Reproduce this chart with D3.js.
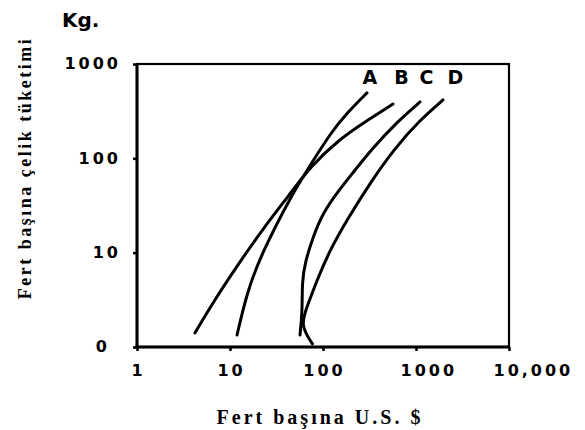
<!DOCTYPE html>
<html>
<head>
<meta charset="utf-8">
<script src="https://cdn.jsdelivr.net/npm/d3@7"></script>
<style>
  body { margin: 0; background: #fff; }
  svg { display: block; }
</style>
</head>
<body>
<div id="chart"></div>
<script>
const width = 585;
const height = 430;
const margin = {left: 137, right: 76, top: 64, bottom: 83};

// axis ticks (log scales)
const xTicks = [1, 10, 100, 1000, 10000];
const xTickLabels = ["1", "10", "100", "1000", "10,000"];
const yTicks = [1, 10, 100, 1000];
const yTickLabels = ["0", "10", "100", "1000"];

// curves: [US$ per head, kg per head]
const seriesNames = ["A", "B", "C", "D"];
const curveA = [[11.9, 1.34], [15.2, 3.74], [21, 9], [46.4, 41.9], [78, 93.8], [119, 181], [181, 303], [297, 494]];
const curveB = [[4.2, 1.41], [6.6, 3.0], [12.8, 8.0], [22.1, 17.4], [44.2, 41.9], [74.3, 83], [152, 161], [283, 243], [566, 377]];
const curveC = [[56.6, 1.34], [60, 2.4], [59.5, 4.89], [64, 7.8], [78, 14.7], [100, 26.4], [141, 43], [205, 68.3], [336, 126], [625, 243], [1104, 396]];
const curveD = [[77, 1.08], [57, 1.7], [67.3, 2.66], [86.2, 5.13], [119, 10.7], [181, 22.2], [320, 54.8], [594, 129], [1104, 255], [1950, 416]];
const curves = [curveA, curveB, curveC, curveD];
// where the letter sits along the x axis, in US$
const labelAt = [320, 700, 1300, 2650];

const svg = d3.select("#chart")
  .append("svg")
  .attr("width", width)
  .attr("height", height);

const x = d3.scaleLog()
  .domain([1, 10000])
  .range([margin.left, width - margin.right]);

const y = d3.scaleLog()
  .domain([1, 1000])
  .range([height - margin.bottom, margin.top]);

// frame
svg.append("rect")
  .attr("x", x(1))
  .attr("y", y(1000))
  .attr("width", x(10000) - x(1))
  .attr("height", y(1) - y(1000))
  .attr("fill", "none")
  .attr("stroke", "#000")
  .attr("stroke-width", 2.2);

// heavier left and bottom edges
svg.append("line")
  .attr("x1", x(1)).attr("x2", x(1))
  .attr("y1", y(1000)).attr("y2", y(1) + 2)
  .attr("stroke", "#000").attr("stroke-width", 3);
svg.append("line")
  .attr("x1", x(1) - 2).attr("x2", x(10000))
  .attr("y1", y(1)).attr("y2", y(1))
  .attr("stroke", "#000").attr("stroke-width", 3);

// x axis
const xAxis = svg.append("g")
  .attr("transform", `translate(0,${y(1)})`)
  .call(d3.axisBottom(x)
    .tickValues(xTicks)
    .tickSize(4)
    .tickFormat((d, i) => xTickLabels[i]));
xAxis.select(".domain").remove();
xAxis.selectAll("line").attr("stroke-width", 2.5);
xAxis.selectAll("text")
  .attr("y", 18)
  .attr("dy", "0.71em")
  .attr("font-family", "DejaVu Sans")
  .attr("font-weight", "bold")
  .attr("font-size", "16px")
  .attr("letter-spacing", "3px")
  .attr("fill", "#000")
  .attr("text-anchor", (d, i) => xTickLabels[i].length > 3 ? "start" : "middle")
  .attr("x", (d, i) => xTickLabels[i].length > 3 ? -16 : 1);

// y axis
const yAxis = svg.append("g")
  .attr("transform", `translate(${x(1)},0)`)
  .call(d3.axisLeft(y)
    .tickValues(yTicks)
    .tickSize(4)
    .tickFormat((d, i) => yTickLabels[i]));
yAxis.select(".domain").remove();
yAxis.selectAll("line").attr("stroke-width", 2.5);
yAxis.selectAll("text")
  .attr("x", (d, i) => i === 0 ? -27 : -16)
  .attr("dy", "0.3em")
  .attr("font-family", "DejaVu Sans")
  .attr("font-weight", "bold")
  .attr("font-size", "16px")
  .attr("letter-spacing", "3px")
  .attr("fill", "#000");

// curves, smoothed through the read points
const line = d3.line()
  .x(d => x(d[0]))
  .y(d => y(d[1]))
  .curve(d3.curveBasis);

svg.selectAll(".curve")
  .data(curves)
  .enter()
  .append("path")
  .attr("class", "curve")
  .attr("d", line)
  .attr("fill", "none")
  .attr("stroke", "#000")
  .attr("stroke-width", 3)
  .attr("stroke-linecap", "round");

// curve letters
svg.selectAll(".name")
  .data(seriesNames)
  .enter()
  .append("text")
  .attr("class", "name")
  .attr("x", (d, i) => x(labelAt[i]))
  .attr("y", 84)
  .attr("text-anchor", "middle")
  .attr("font-family", "DejaVu Sans")
  .attr("font-weight", "bold")
  .attr("font-size", "19px")
  .text(d => d);

// titles
svg.append("text")
  .attr("x", 62)
  .attr("y", 27)
  .attr("font-family", "DejaVu Sans")
  .attr("font-weight", "bold")
  .attr("font-size", "20px")
  .text("Kg.");

svg.append("text")
  .attr("x", 320)
  .attr("y", 424)
  .attr("text-anchor", "middle")
  .attr("font-family", "Liberation Serif")
  .attr("font-weight", "bold")
  .attr("font-size", "20px")
  .attr("letter-spacing", "3px")
  .text("Fert başına U.S. $");

svg.append("text")
  .attr("transform", "translate(31,168) rotate(-90)")
  .attr("text-anchor", "middle")
  .attr("font-family", "Liberation Serif")
  .attr("font-weight", "bold")
  .attr("font-size", "18px")
  .attr("letter-spacing", "2.5px")
  .text("Fert başına çelik tüketimi");
</script>
</body>
</html>
